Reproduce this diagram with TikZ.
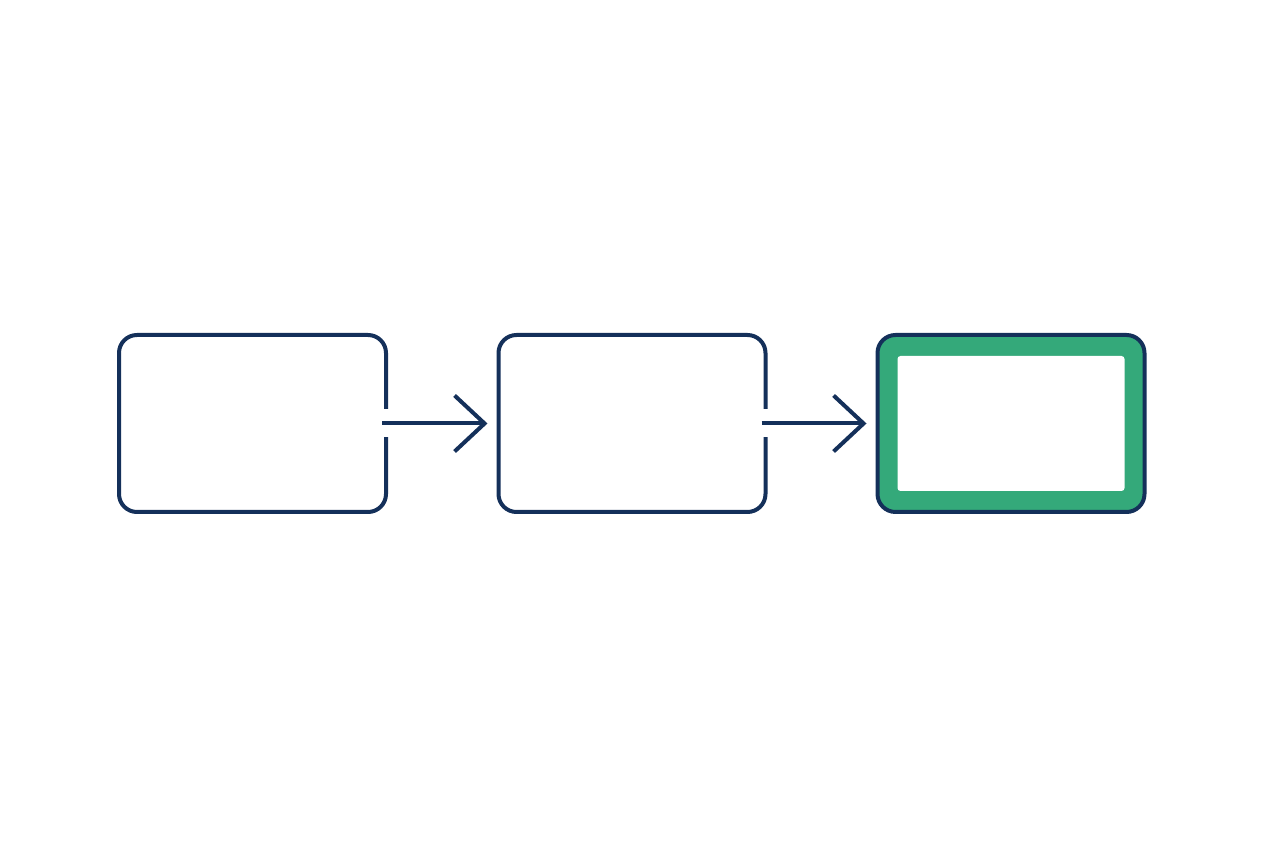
\documentclass[tikz,border=0pt]{standalone}
\usetikzlibrary{arrows.meta,calc}
\definecolor{navy}{HTML}{14305A}
\definecolor{leaf}{HTML}{34A97A}
\tikzset{
  stagebox/.style={draw=navy, line width=4pt, rounded corners=18pt, minimum width=267pt, minimum height=177pt, inner sep=0pt, outer sep=0pt},
  flow/.style={draw=navy, line width=4pt, -{Straight Barb[length=30pt,width=56pt,line width=4pt]}, shorten >=11pt}
}
\begin{document}
\begin{tikzpicture}[x=1pt,y=1pt]
  \useasboundingbox (0,0) rectangle (1264,848);
  \node[stagebox] (b1) at (252.5,424.5) {};
  \node[stagebox] (b2) at (632,424.5) {};
  \node[stagebox, fill=leaf] (b3) at (1011,424.5) {};
  \node[fill=white, rounded corners=3pt, minimum width=227pt, minimum height=135pt, inner sep=0pt] (core) at (b3.center) {};
  % break the border where the arrows leave
  \fill[white] ($(b1.east)+(-4,-14)$) rectangle ($(b1.east)+(4,14)$);
  \fill[white] ($(b2.east)+(-4,-14)$) rectangle ($(b2.east)+(4,14)$);
  \draw[flow] ($(b1.east)+(-4,0)$) -- (b2.west);
  \draw[flow] ($(b2.east)+(-4,0)$) -- (b3.west);
\end{tikzpicture}
\end{document}
